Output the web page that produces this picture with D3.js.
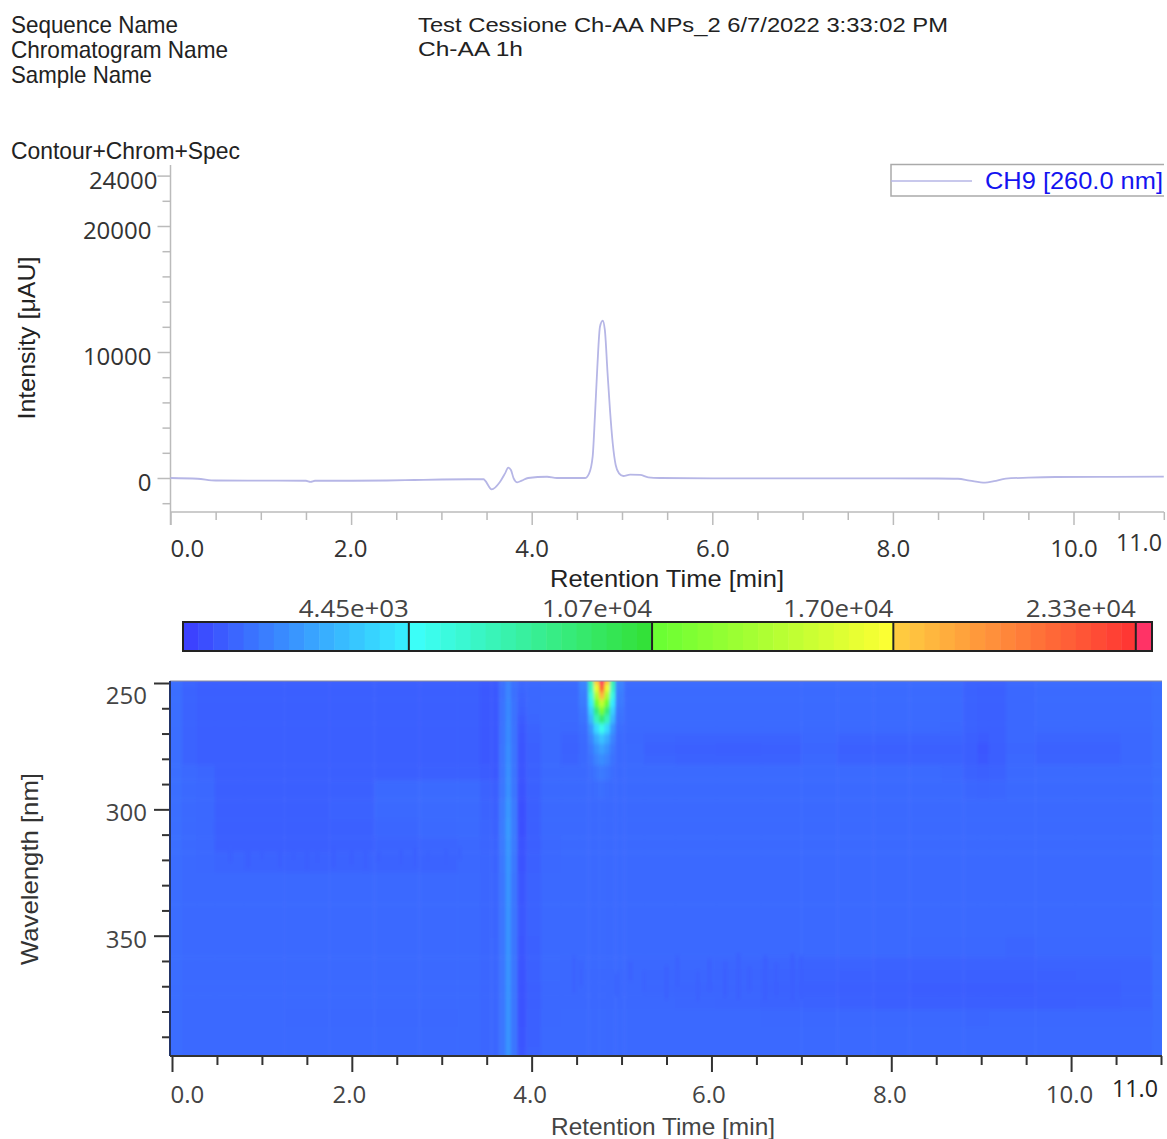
<!DOCTYPE html>
<html>
<head>
<meta charset="utf-8">
<script src="https://cdn.jsdelivr.net/npm/d3@7"></script>
<style>
  html, body { margin: 0; background: #fff; }
  svg { display: block; }
  text { fill: #333; }
  .head { font-family: "Liberation Sans", sans-serif; font-size: 24px; fill: #222; }
  .tight { font-size: 21px; }
  .num { font-family: "Open Sans", sans-serif; font-size: 24px; }
  .heatnum { font-family: "Open Sans", sans-serif; font-size: 24px; fill: #444; }
</style>
</head>
<body>
<svg width="1167" height="1139"></svg>
<script>
// chromatogram at 260 nm
var traceTimes = [0, 0.3, 0.5, 1.0, 1.5, 1.55, 1.6, 2.0, 2.4, 2.7, 3.0, 3.3, 3.465, 3.557, 3.65, 3.705, 3.74, 3.77, 3.8, 3.84, 3.89, 3.96, 4.17, 4.28, 4.59, 4.635, 4.675, 4.7, 4.727, 4.756, 4.786, 4.81, 4.84, 4.867, 4.897, 4.93, 4.967, 5.015, 5.09, 5.2, 5.29, 5.42, 6.0, 7.0, 8.0, 8.5, 8.72, 8.85, 9.02, 9.12, 9.25, 9.5, 9.8, 10.4, 11.0];
var traceValues = [0, -60, -200, -210, -220, -300, -220, -220, -200, -160, -120, -100, -100, -900, -290, 370, 820, 630, -30, -340, -210, 0, 100, 0, 0, 350, 1700, 4870, 8830, 12000, 12480, 11750, 8330, 5400, 2780, 1030, 370, 160, 260, 240, 55, 0, -30, -30, -30, -40, -60, -200, -360, -250, -50, 30, 80, 90, 110];

var traceMajorX = [0, 2, 4, 6, 8, 10];
var traceMinorX = [0.5, 1, 1.5, 2.5, 3, 3.5, 4.5, 5, 5.5, 6.5, 7, 7.5, 8.5, 9, 9.5, 10.5, 11];
var traceMajorY = [0, 10000, 20000, 24000];
var traceMinorY = [-2000, 2000, 4000, 6000, 8000, 12000, 14000, 16000, 18000, 22000];

// colour bar
var barLabels = ["4.45e+03", "1.07e+04", "1.70e+04", "2.33e+04"];
var barTicks = [4450, 10750, 17000, 23280];
var colorStops = [-1400, 4449, 4450, 10749, 10750, 16999, 17000, 23279, 23280, 23700];
var colorHexes = ["#3c3cff", "#36f0ff", "#3cffff", "#33e033", "#66ff33", "#ffff33", "#ffd040", "#ff3333", "#ff3366", "#ff3366"];

// contour, one row of values per wavelength
var heatTimes = [0.02, 0.2, 0.35, 0.6, 1.0, 1.5, 2.0, 2.5, 3.0, 3.35, 3.5, 3.6, 3.68, 3.74, 3.8, 3.88, 4.0, 4.2, 4.45, 4.6, 4.66, 4.72, 4.78, 4.84, 4.9, 4.96, 5.1, 5.4, 5.8, 6.3, 6.8, 7.2, 7.6, 8.0, 8.4, 8.7, 8.9, 9.02, 9.15, 9.4, 9.8, 10.3, 10.8, 11.0];
var heatWavelengths = [249, 252, 255, 258, 261, 264, 268, 272, 276, 280, 285, 292, 300, 308, 314, 320, 330, 345, 356, 361, 366, 371, 376, 382, 390, 398];
var heatValues = [
  [230,-100,-280,-290,-290,-290,-290,-290,-290,-300,-450,-500,300,900,300,-50,0,50,60, 900,7000,17600,23500,17600,7000,900, 90,90,90,90,90,90,90,90,90,60,-150,-230,-200,40,100,100,100,220],
  [230,-100,-280,-290,-290,-290,-290,-290,-290,-300,-450,-500,300,1000,300,-50,0,50,60, 850,6400,16100,21500,16100,6400,850, 90,90,90,90,90,90,90,90,90,60,-150,-230,-200,40,100,100,100,220],
  [230,-100,-280,-290,-290,-290,-290,-290,-290,-300,-450,-500,300,1000,300,-100,0,50,60, 700,5400,13500,18000,13500,5400,700, 90,90,90,90,90,90,90,90,90,60,-150,-230,-200,40,100,100,100,220],
  [230,-100,-280,-290,-290,-290,-290,-290,-290,-300,-450,-500,350,1100,350,-150,0,50,60, 600,4300,10900,14500,10900,4300,600, 90,90,90,90,90,90,90,90,90,60,-150,-230,-200,40,100,100,100,220],
  [230,-100,-280,-290,-290,-290,-290,-290,-290,-300,-450,-500,350,1100,350,-200,0,50,60, 450,3400,8600,11500,8600,3400,450, 90,90,90,90,90,90,90,90,90,60,-150,-230,-200,40,100,100,100,220],
  [230,-100,-280,-290,-290,-290,-290,-290,-290,-300,-450,-500,350,1150,350,-400,-50,50,60, 350,2600,6600,8800,6600,2600,350, 90,90,90,90,90,90,90,90,90,60,-150,-230,-200,40,100,100,100,220],
  [230,-100,-280,-290,-290,-290,-290,-290,-290,-300,-450,-500,400,1200,400,-500,-100,50,0, 200,1500,3700,5000,3700,1500,200, 60,60,60,60,60,60,60,60,60,30,-150,-230,-200,40,60,60,60,220],
  [230,-100,-280,-290,-290,-290,-290,-290,-290,-300,-450,-500,400,1200,400,-550,-150,50,-100, 100,900,2200,3000,2200,900,100, 40,-80,-100,-130,-100,0,-100,-100,-110,-100,-200,-400,-220,0,-60,-70,40,220],
  [230,-100,-280,-290,-290,-290,-290,-290,-290,-300,-450,-500,450,1300,450,-600,-200,50,-160, 50,550,1400,1900,1400,550,50, 60,-150,-220,-250,-220,-40,-220,-220,-220,-200,-300,-550,-300,-50,-180,-180,40,220],
  [230,-100,-280,-290,-290,-290,-290,-290,-290,-300,-450,-500,450,1300,450,-600,-200,50,-100, 50,350,900,1200,900,350,50, 60,-60,-150,-180,-150,0,-150,-150,-160,-150,-250,-450,-260,-10,-100,-120,40,220],
  [230,50,-50,-280,-270,-260,-250,-250,-220,-200,-350,-450,450,1350,450,-620,-200,50,60, 50,180,450,600,450,180,50, 80,80,80,80,80,80,80,80,80,40,-150,-200,-150,60,80,80,80,220],
  [220,50,40,-270,-270,-270,-200,50,90,90,-150,-300,500,1400,500,-650,-200,50,60, 50,90,160,220,160,90,50, 70,70,70,70,70,70,70,70,70,60,-20,-80,-20,70,70,70,70,220],
  [220,50,40,-270,-270,-270,-150,60,90,90,-100,-200,600,1600,600,-750,-300,50,60, 60,60,60,60,60,60,60, 60,60,60,60,60,60,60,60,60,60,60,60,60,60,60,60,60,220],
  [220,50,40,-280,-280,-280,-200,-50,50,90,-80,-150,650,1700,650,-750,-300,50,60, 60,60,60,60,60,60,60, 60,60,60,60,60,60,60,60,60,60,60,60,60,60,60,60,60,220],
  [220,50,40,-260,-260,-250,-200,-120,-80,30,-80,-120,600,1600,600,-700,-250,40,60, 60,60,60,60,60,60,60, 60,60,60,60,60,60,60,60,60,60,60,60,60,60,60,60,60,220],
  [200,50,40,-80,-120,-150,-120,-100,-100,20,-50,-100,550,1550,550,-650,-200,40,60, 60,60,60,60,60,60,60, 60,60,60,60,60,60,60,60,60,60,60,60,60,60,60,60,60,220],
  [200,50,50,60,60,60,60,60,60,60,-20,-60,500,1500,500,-550,-150,50,60, 60,60,60,60,60,60,60, 60,60,60,60,60,60,60,60,60,60,60,60,60,60,60,60,60,220],
  [200,50,50,60,60,60,60,60,60,60,-20,-60,500,1450,500,-500,-150,50,60, 60,60,60,60,60,60,60, 60,60,60,60,60,60,60,60,60,60,60,60,60,60,60,60,60,220],
  [200,50,50,60,60,60,60,60,60,60,-20,-50,500,1450,500,-550,-200,50,60, 60,60,60,60,60,60,60, 60,60,60,60,60,60,60,60,30,20,10,0,10,-60,10,20,20,220],
  [200,50,50,60,60,60,60,60,60,60,-20,-50,500,1450,500,-600,-200,50,40, 50,50,50,50,50,50,50, 30,0,0,-20,-60,-120,-130,-150,-170,-160,-170,-150,-170,-180,-140,-130,-100,200],
  [200,50,50,60,60,60,60,60,60,60,-20,-50,500,1450,500,-650,-200,50,20, 40,40,40,40,40,40,40, 10,-30,-40,-60,-110,-170,-190,-210,-230,-220,-220,-220,-220,-230,-200,-180,-120,200],
  [200,50,50,60,60,60,60,60,60,60,-20,-50,500,1450,500,-700,-250,40,20, 30,30,30,30,30,30,30, 0,-30,-60,-80,-150,-220,-250,-300,-320,-340,-340,-340,-330,-330,-300,-260,-140,200],
  [200,50,50,60,60,60,60,60,60,60,-20,-50,500,1450,500,-700,-250,40,30, 40,40,40,40,40,40,40, 20,0,-30,-60,-100,-170,-210,-260,-280,-290,-300,-300,-300,-290,-260,-220,-100,200],
  [200,50,50,60,50,40,40,40,30,50,-20,-50,500,1450,500,-650,-200,40,60, 60,60,60,60,60,60,60, 60,60,60,50,40,20,30,10,0,-10,-20,-30,10,30,20,30,40,200],
  [200,50,50,60,60,60,60,60,60,60,-20,-50,500,1450,500,-600,-200,50,60, 60,60,60,60,60,60,60, 60,60,60,60,60,60,60,60,60,60,60,60,60,60,60,60,60,200],
  [200,50,50,60,60,60,60,60,60,60,-20,-50,500,1450,500,-550,-150,50,60, 60,60,60,60,60,60,60, 60,60,60,60,60,60,60,60,60,60,60,60,60,60,60,60,60,200]
];

// narrow streaks in the noisy bands
var streakTimes = [0.65, 0.85, 1.0, 1.2, 1.35, 1.5, 1.62, 1.8, 2.0, 2.15, 2.3, 2.55, 2.7, 2.85, 3.05, 3.2, 4.47, 4.55, 4.95, 5.1, 5.25, 5.5, 5.62, 5.85, 5.98, 6.15, 6.3, 6.42, 6.6, 6.72, 6.9, 7.0];
var streakTops = [314, 314, 316, 314, 316, 314, 316, 314, 316, 315, 317, 316, 315, 317, 316, 315, 358, 360, 365, 360, 364, 362, 358, 364, 359, 360, 357, 362, 358, 361, 357, 358];
var streakBottoms = [321, 323, 320, 323, 320, 324, 321, 323, 322, 324, 321, 322, 323, 321, 322, 320, 373, 370, 374, 368, 372, 375, 370, 376, 372, 374, 375, 372, 376, 374, 376, 375];
var streakValues = [-220, -260, -200, -260, -220, -280, -240, -260, -260, -220, -200, -240, -220, -180, -180, -140, -120, -140, -100, -160, -120, -200, -160, -180, -200, -220, -240, -200, -260, -220, -260, -240];

var heatMajorX = [0, 2, 4, 6, 8, 10];
var heatMinorX = [0.5, 1, 1.5, 2.5, 3, 3.5, 4.5, 5, 5.5, 6.5, 7, 7.5, 8.5, 9, 9.5, 10.5, 11];
var heatMajorY = [250, 300, 350];
var heatMinorY = [260, 270, 280, 290, 310, 320, 330, 340, 360, 370, 380, 390];

var svg = d3.select("svg");

var label = function(txt, x, y, w, cls, rot) {
  var t = svg.append("text")
    .attr("class", cls || "head")
    .attr("dominant-baseline", "central")
    .text(txt);
  if (w) t.attr("textLength", w).attr("lengthAdjust", "spacingAndGlyphs");
  if (rot) {
    t.attr("text-anchor", "middle").attr("transform", "translate(" + x + "," + y + ") rotate(-90)");
  } else {
    t.attr("x", x).attr("y", y);
  }
  return t;
};

label("Sequence Name", 11, 24, 167);
label("Chromatogram Name", 11, 49, 217);
label("Sample Name", 11, 74, 141);
label("Test Cessione Ch-AA NPs_2 6/7/2022 3:33:02 PM", 418, 24, 530, "head tight");
label("Ch-AA 1h", 418, 48.5, 105, "head tight");
label("Contour+Chrom+Spec", 11, 150, 229);

// ---- chromatogram ----
var x1 = d3.scaleLinear().domain([0, 11]).range([170.5, 1163.8]);
var y1 = d3.scaleLinear().domain([0, 10000]).range([478, 352]);
var y1Bottom = 512, y1Top = 165;

var styleAxis = function(g, col, w) {
  g.selectAll("path").remove();
  g.selectAll("line").attr("stroke", col).attr("stroke-width", w);
};

var xm = svg.append("g").attr("transform", "translate(0," + y1Bottom + ")")
  .call(d3.axisBottom(x1).tickValues(traceMinorX).tickSize(8).tickFormat(""));
styleAxis(xm, "#bbb", 1.5);
var xM = svg.append("g").attr("transform", "translate(0," + y1Bottom + ")")
  .call(d3.axisBottom(x1).tickValues(traceMajorX).tickSize(13).tickFormat(d3.format(".1f")));
styleAxis(xM, "#bbb", 1.5);
xM.selectAll("text").attr("class", "num").attr("font-family", null).attr("font-size", null)
  .attr("y", 35).attr("dy", null).attr("dominant-baseline", "central")
  .attr("text-anchor", function(d) { return d == 0 ? "start" : "middle"; })
  .attr("x", function(d) { return d == 0 ? -0.5 : (d == 2 ? -1 : 0); });
label("11.0", 1116, 541, 46, "num");

var ym = svg.append("g").attr("transform", "translate(170.5,0)")
  .call(d3.axisLeft(y1).tickValues(traceMinorY).tickSize(8).tickFormat(""));
styleAxis(ym, "#bbb", 1.5);
var yM = svg.append("g").attr("transform", "translate(170.5,0)")
  .call(d3.axisLeft(y1).tickValues(traceMajorY).tickSize(13).tickFormat(d3.format("d")));
styleAxis(yM, "#bbb", 1.5);
yM.selectAll("text").attr("class", "num").attr("font-family", null).attr("font-size", null)
  .attr("x", function(d) { return d == 24000 ? -13 : -19; })
  .attr("dy", null).attr("dominant-baseline", "central")
  .attr("y", 3);

svg.append("line").attr("x1", 170.5).attr("x2", 170.5).attr("y1", y1Top).attr("y2", y1Bottom + 13)
  .attr("stroke", "#bbb").attr("stroke-width", 1.5);
svg.append("line").attr("x1", 170.5).attr("x2", 1164).attr("y1", y1Bottom).attr("y2", y1Bottom)
  .attr("stroke", "#bbb").attr("stroke-width", 1.5);

var line = d3.line()
  .x(function(d, i) { return x1(traceTimes[i]); })
  .y(function(d) { return y1(d); })
  .curve(d3.curveMonotoneX);
svg.append("path").datum(traceValues)
  .attr("d", line)
  .attr("fill", "none")
  .attr("stroke", "#b6b6e6")
  .attr("stroke-width", 1.8);

label("Retention Time [min]", 550, 578, 234);
label("Intensity [\u03bcAU]", 26, 338, 163, "head", true);

// legend
svg.append("path").attr("d", "M1164,164.5H891V196H1164").attr("fill", "none").attr("stroke", "#aaa").attr("stroke-width", 1.5);
svg.append("line").attr("x1", 891).attr("x2", 972).attr("y1", 181).attr("y2", 181).attr("stroke", "#b6b6e6").attr("stroke-width", 1.5);
label("CH9 [260.0 nm]", 985, 180, 178).style("fill", "#1414f0");

// ---- colour bar ----
var color = d3.scaleLinear().domain(colorStops).range(colorHexes);
var barX = d3.scaleLinear().domain([-1400, 23700]).range([183, 1152]);
var barSteps = d3.range(-1400, 23700, 392);
svg.append("g").selectAll("rect").data(barSteps).enter().append("rect")
  .attr("x", function(d) { return barX(d); })
  .attr("y", 622)
  .attr("width", function(d) { return barX(Math.min(d + 392, 23700)) - barX(d) + 0.5; })
  .attr("height", 29)
  .attr("fill", function(d) { return color(d + 196); });
svg.append("rect").attr("x", 183).attr("y", 622).attr("width", 969).attr("height", 29)
  .attr("fill", "none").attr("stroke", "#222").attr("stroke-width", 2);
svg.append("g").selectAll("line").data(barTicks).enter().append("line")
  .attr("x1", function(d) { return barX(d); })
  .attr("x2", function(d) { return barX(d); })
  .attr("y1", 622).attr("y2", 651)
  .attr("stroke", "#222").attr("stroke-width", 2);
svg.append("g").selectAll("text").data(barTicks).enter().append("text")
  .attr("class", "heatnum")
  .attr("x", function(d) { return barX(d) - 110; })
  .attr("y", 607)
  .attr("textLength", 110)
  .attr("lengthAdjust", "spacingAndGlyphs")
  .attr("dominant-baseline", "central")
  .text(function(d, i) { return barLabels[i]; });

// ---- contour ----
var x2 = d3.scaleLinear().domain([0, 11]).range([172, 1161]);
var y2 = d3.scaleLinear().domain([250, 350]).range([683, 935.7]);
var plotLeft = 170, plotRight = 1162, plotTop = 681, plotBottom = 1056;

var edges = function(c) {
  var e = [c[0] - 1];
  for (var i = 1; i < c.length; i++) e.push((c[i - 1] + c[i]) / 2);
  e.push(c[c.length - 1] + 3);
  return e;
};
var timeEdges = edges(heatTimes);
var nmEdges = edges(heatWavelengths);

var defs = svg.append("defs");
defs.append("clipPath").attr("id", "plotclip").append("rect")
  .attr("x", plotLeft).attr("y", plotTop).attr("width", plotRight - plotLeft).attr("height", plotBottom - plotTop);
var blur = defs.append("filter").attr("id", "soft").attr("filterUnits", "userSpaceOnUse")
  .attr("x", 100).attr("y", 620).attr("width", 1067).attr("height", 519);
blur.append("feGaussianBlur").attr("stdDeviation", "1.6 2");

var heat = svg.append("g").attr("clip-path", "url(#plotclip)")
  .append("g").attr("filter", "url(#soft)");

var rows = heat.selectAll("g").data(heatValues).enter().append("g");
rows.each(function(row, r) {
  d3.select(this).selectAll("rect").data(row).enter().append("rect")
    .attr("x", function(d, c) { return x2(timeEdges[c]); })
    .attr("y", y2(nmEdges[r]))
    .attr("width", function(d, c) { return x2(timeEdges[c + 1]) - x2(timeEdges[c]) + 0.5; })
    .attr("height", y2(nmEdges[r + 1]) - y2(nmEdges[r]) + 0.5)
    .attr("fill", function(d) { return color(d); });
});

heat.append("g").selectAll("rect").data(streakTimes).enter().append("rect")
  .attr("x", function(d) { return x2(d) - 2; })
  .attr("width", 4)
  .attr("y", function(d, i) { return y2(streakTops[i]); })
  .attr("height", function(d, i) { return y2(streakBottoms[i]) - y2(streakTops[i]); })
  .attr("fill", function(d, i) { return color(streakValues[i]); });

var xhm = svg.append("g").attr("transform", "translate(0," + plotBottom + ")")
  .call(d3.axisBottom(x2).tickValues(heatMinorX).tickSize(9).tickFormat(""));
styleAxis(xhm, "#333", 2);
var xhM = svg.append("g").attr("transform", "translate(0," + plotBottom + ")")
  .call(d3.axisBottom(x2).tickValues(heatMajorX).tickSize(16).tickFormat(d3.format(".1f")));
styleAxis(xhM, "#333", 2);
xhM.selectAll("text").attr("class", "heatnum").attr("font-family", null).attr("font-size", null)
  .attr("y", 37).attr("dy", null).attr("dominant-baseline", "central")
  .attr("text-anchor", function(d) { return d == 0 ? "start" : "middle"; })
  .attr("x", function(d) { return d == 0 ? -2 : (d == 10 ? -2 : (d == 4 || d == 8 ? -2 : -3)); });
label("11.0", 1112, 1087, 46, "heatnum").style("fill", "#222");

var yhm = svg.append("g").attr("transform", "translate(" + plotLeft + ",0)")
  .call(d3.axisLeft(y2).tickValues(heatMinorY).tickSize(8).tickFormat(""));
styleAxis(yhm, "#333", 2);
var yhM = svg.append("g").attr("transform", "translate(" + plotLeft + ",0)")
  .call(d3.axisLeft(y2).tickValues(heatMajorY).tickSize(16).tickFormat(d3.format("d")));
styleAxis(yhM, "#333", 2);
yhM.selectAll("text").attr("class", "heatnum").attr("font-family", null).attr("font-size", null)
  .attr("x", -23).attr("dy", null).attr("dominant-baseline", "central")
  .attr("y", function(d) { return d == 250 ? 11 : 2; });

svg.append("line").attr("x1", plotLeft).attr("x2", plotRight).attr("y1", plotTop).attr("y2", plotTop)
  .attr("stroke", "#8a8a9a").attr("stroke-width", 1);
svg.append("line").attr("x1", plotLeft).attr("x2", plotLeft).attr("y1", plotTop).attr("y2", plotBottom)
  .attr("stroke", "#223366").attr("stroke-width", 2);
svg.append("line").attr("x1", plotLeft).attr("x2", plotRight).attr("y1", plotBottom).attr("y2", plotBottom)
  .attr("stroke", "#333").attr("stroke-width", 2);

label("Retention Time [min]", 551, 1126, 224).style("fill", "#444");
label("Wavelength [nm]", 29, 869, 192, "head", true).style("fill", "#333");
</script>
</body>
</html>
